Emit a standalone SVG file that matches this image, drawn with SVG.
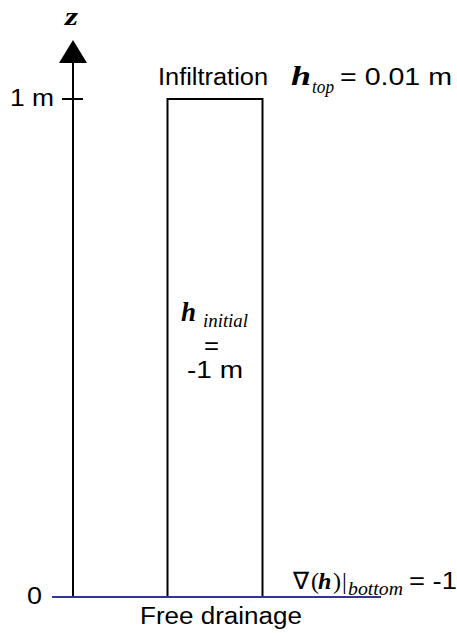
<svg xmlns="http://www.w3.org/2000/svg" width="457" height="633" viewBox="0 0 457 633">
<style>
.s{font-family:"Liberation Sans",Arial,sans-serif;font-size:23px;fill:#000}
.m{font-family:"Liberation Serif","Times New Roman",serif;fill:#000}
.bi{font-weight:bold;font-style:italic}
.it{font-style:italic}
.ln{stroke:#000;stroke-width:2;fill:none}
</style>
<rect width="457" height="633" fill="#fff"/>
<g id="axis">
<line class="ln" x1="73" y1="60" x2="73" y2="597"/>
<polygon points="73,40 59,63 87,63" fill="#000"/>
<line class="ln" x1="62" y1="99" x2="83" y2="99"/>
<text class="m bi" x="65" y="25" font-size="26" textLength="13" lengthAdjust="spacingAndGlyphs">z</text>
<text class="s" x="10" y="106" textLength="44" lengthAdjust="spacingAndGlyphs">1 m</text>
<text class="s" x="27" y="604" textLength="15" lengthAdjust="spacingAndGlyphs">0</text>
</g>
<g id="column">
<rect class="ln" x="167.5" y="99" width="95" height="498"/>
<text class="m bi" x="181" y="321" font-size="27" textLength="15" lengthAdjust="spacingAndGlyphs">h</text>
<text class="m it" x="203" y="327" font-size="18" textLength="45" lengthAdjust="spacingAndGlyphs">initial</text>
<text class="s" x="204" y="354" font-size="21" textLength="15" lengthAdjust="spacingAndGlyphs">=</text>
<text class="s" x="187" y="378" textLength="56" lengthAdjust="spacingAndGlyphs">-1 m</text>
</g>
<g id="top-boundary">
<text class="s" x="158" y="85" textLength="110" lengthAdjust="spacingAndGlyphs">Infiltration</text>
<text class="m bi" x="291" y="85" font-size="27" textLength="20" lengthAdjust="spacingAndGlyphs">h</text>
<text class="m it" x="312" y="93" font-size="19" textLength="22" lengthAdjust="spacingAndGlyphs">top</text>
<text class="s" x="340" y="85" textLength="112" lengthAdjust="spacingAndGlyphs">= 0.01 m</text>
</g>
<g id="bottom-boundary">
<line x1="52" y1="597" x2="381" y2="597" stroke="#333399" stroke-width="2"/>
<text class="s" x="140" y="624" textLength="162" lengthAdjust="spacingAndGlyphs">Free drainage</text>
<text class="m" y="589" font-size="24"><tspan x="293">∇</tspan><tspan x="311">(</tspan><tspan x="318" class="bi">h</tspan><tspan x="333">)</tspan><tspan x="342">|</tspan></text>
<text class="m it" x="348" y="595" font-size="18" textLength="55" lengthAdjust="spacingAndGlyphs">bottom</text>
<text class="s" x="409" y="589" textLength="48" lengthAdjust="spacingAndGlyphs">= -1</text>
</g>
</svg>
